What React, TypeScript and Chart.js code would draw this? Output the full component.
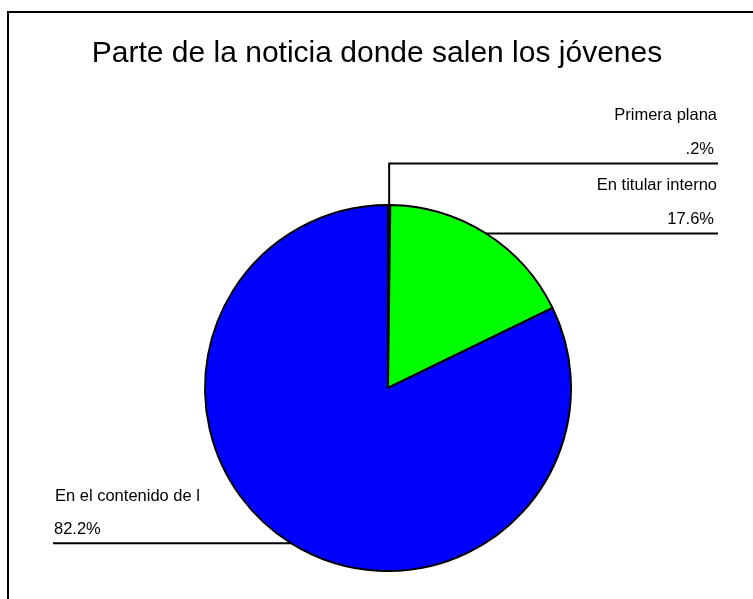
import React, { useEffect, useRef } from "react";
import { Chart, registerables } from "chart.js";

Chart.register(...registerables);

const TITLE = "Parte de la noticia donde salen los jóvenes";
const categories = ["Primera plana", "En titular interno", "En el contenido de l"];
const values = [0.2, 17.6, 82.2];
const valueLabels = [".2%", "17.6%", "82.2%"];
const colors = ["#CC0000", "#00FF00", "#0000FF"];

const FONT = "'Liberation Sans', Arial, sans-serif";

const overlayPlugin = {
  id: "overlay",
  beforeDraw(chart: any) {
    const ctx = chart.ctx;
    ctx.save();
    ctx.fillStyle = "#ffffff";
    ctx.fillRect(0, 0, chart.width, chart.height);
    ctx.strokeStyle = "#000";
    ctx.lineWidth = 2;
    ctx.beginPath();
    ctx.moveTo(8, chart.height + 5);
    ctx.lineTo(8, 12);
    ctx.lineTo(chart.width + 5, 12);
    ctx.stroke();
    ctx.fillStyle = "#000";
    ctx.font = `30px ${FONT}`;
    ctx.textAlign = "center";
    ctx.textBaseline = "middle";
    ctx.fillText(TITLE, 377, 54);
    ctx.restore();
  },
  afterDraw(chart: any) {
    const ctx = chart.ctx;
    const meta = chart.getDatasetMeta(0);
    const pts = meta.data.map((arc: any, i: number) => {
      const p = arc.getProps(["x", "y", "startAngle", "endAngle", "outerRadius"], true);
      const mid = (p.startAngle + p.endAngle) / 2;
      return {
        i,
        px: p.x + Math.cos(mid) * p.outerRadius,
        py: p.y + Math.sin(mid) * p.outerRadius,
        right: Math.cos(mid) >= 0,
      };
    });
    const rightX = 718;
    const leftX = 53;
    const right = pts.filter((p: any) => p.right).sort((a: any, b: any) => b.py - a.py);
    let limit = Infinity;
    right.forEach((p: any) => {
      p.ly = Math.min(p.py, limit);
      limit = p.ly - 70;
    });
    pts.filter((p: any) => !p.right).forEach((p: any) => (p.ly = p.py));

    ctx.save();
    ctx.strokeStyle = "#000";
    ctx.lineWidth = 2;
    ctx.fillStyle = "#000";
    ctx.font = `16.5px ${FONT}`;
    ctx.textBaseline = "middle";
    pts.forEach((p: any) => {
      ctx.beginPath();
      ctx.moveTo(p.px, p.py);
      if (p.right) {
        ctx.lineTo(p.px, p.ly);
        ctx.lineTo(rightX, p.ly);
        ctx.stroke();
        ctx.textAlign = "right";
        ctx.fillText(categories[p.i], rightX - 1, p.ly - 48);
        ctx.fillText(valueLabels[p.i], rightX - 4, p.ly - 14);
      } else {
        ctx.lineTo(leftX, p.ly);
        ctx.stroke();
        ctx.textAlign = "left";
        ctx.fillText(categories[p.i], leftX + 2, p.ly - 47);
        ctx.fillText(valueLabels[p.i], leftX + 1, p.ly - 14);
      }
    });
    ctx.restore();
  },
};

export default function App() {
  const ref = useRef<HTMLCanvasElement>(null);
  useEffect(() => {
    if (!ref.current) return;
    const chart = new Chart(ref.current, {
      type: "pie",
      data: {
        labels: categories,
        datasets: [
          {
            data: values,
            backgroundColor: colors,
            borderColor: "#000",
            borderWidth: 2,
          },
        ],
      },
      options: {
        animation: false,
        responsive: false,
        layout: { padding: { left: 204, right: 181, top: 204, bottom: 27 } },
        plugins: {
          legend: { display: false },
          title: { display: false },
          tooltip: { enabled: false },
        },
      },
      plugins: [overlayPlugin],
    });
    return () => chart.destroy();
  }, []);
  return (
    <div style={{ position: "fixed", left: 0, top: 0, width: 753, height: 599 }}>
      <canvas ref={ref} width={753} height={599} />
    </div>
  );
}
